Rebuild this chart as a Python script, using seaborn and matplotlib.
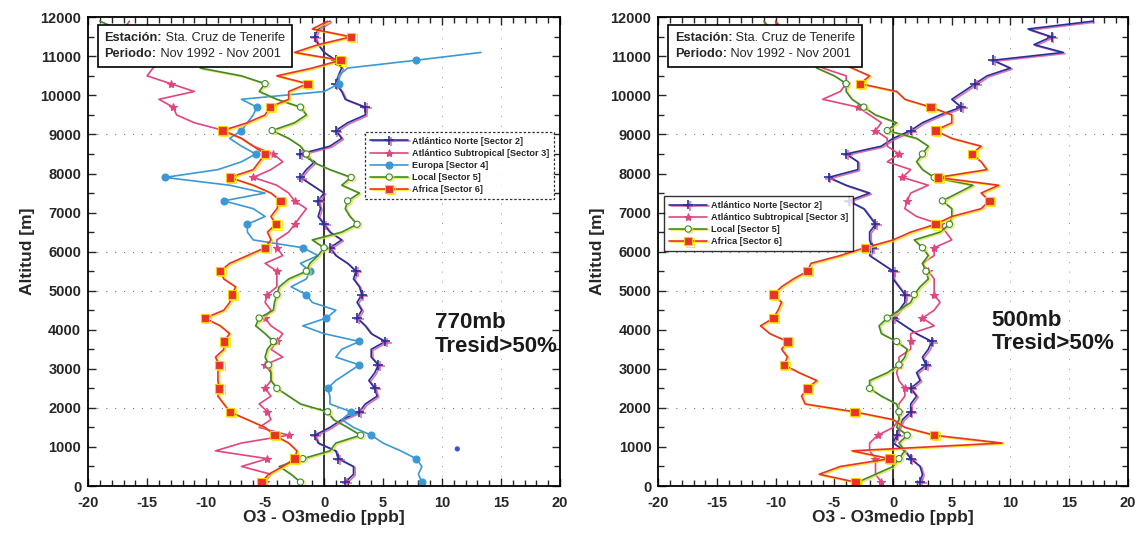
import numpy as np
import pandas as pd
import matplotlib
matplotlib.use('Agg')
import matplotlib.pyplot as plt
import matplotlib.patheffects as pe
from matplotlib.ticker import MultipleLocator
from matplotlib.offsetbox import TextArea, HPacker, VPacker, AnchoredOffsetbox
import seaborn as sns

nan = np.nan

# altitud de cada nivel (m)
altitud = [100, 300, 500, 700, 900, 1100, 1300, 1500, 1700, 1900,
           2100, 2300, 2500, 2700, 2900, 3100, 3300, 3500, 3700, 3900,
           4100, 4300, 4500, 4700, 4900, 5100, 5300, 5500, 5700, 5900,
           6100, 6300, 6500, 6700, 6900, 7100, 7300, 7500, 7700, 7900,
           8100, 8300, 8500, 8700, 8900, 9100, 9300, 9500, 9700, 9900,
           10100, 10300, 10500, 10700, 10900, 11100, 11300, 11500, 11700, 11900]

# ---- 770 mb ----
norte_770 = [1.8, 2.5, 2.5, 1.2, 1.0, -0.5, -0.8, 0.5, 1.5, 3.0,
             3.5, 4.5, 4.3, 3.8, 4.3, 4.6, 4.0, 4.0, 5.2, 4.0,
             3.5, 2.8, 3.2, 2.8, 3.2, 3.0, 2.5, 2.7, 2.0, 1.0,
             0.5, 1.5, 0.5, 0.0, -0.5, -0.3, -0.5, 0.0, -1.0, -2.0,
             -1.5, -0.8, -2.0, 0.5, 1.5, 1.0, 2.0, 3.5, 3.5, 1.8,
             1.5, 1.0, 1.2, 1.5, 1.0, 0.0, -0.5, -0.8, -0.5, 0.5]
subtrop_770 = [-5.0, -4.5, -7.0, -4.8, -9.2, -7.0, -3.0, -5.5, -4.5, -4.8,
               -5.5, -4.5, -5.0, -4.5, -4.5, -5.0, -3.5, -4.5, -4.0, -3.5,
               -4.5, -5.0, -4.5, -5.0, -4.8, -4.0, -4.0, -4.0, -5.0, -3.5,
               -4.0, -4.0, -3.0, -2.5, -2.0, -1.5, -2.5, -3.0, -4.0, -6.0,
               -4.5, -3.5, -4.3, -6.0, -7.0, -8.5, -11.0, -12.5, -12.8, -14.0,
               -11.0, -13.0, -15.0, -14.5, -14.0, -15.0, -15.5, -16.0, -17.0, -16.5]
europa_770 = [8.3, 8.0, 8.3, 7.8, 6.5, 5.0, 4.0, 2.5, 1.5, 2.3,
              0.5, 0.5, 0.3, 1.0, 2.0, 3.0, 1.0, 1.5, 3.0, 0.0,
              -1.8, 0.2, 1.0, -1.0, -1.5, -2.8, -1.5, -1.2, -2.0, -0.5,
              -1.8, -6.0, -6.5, -6.5, -5.0, -6.0, -8.5, -5.0, -8.0, -13.5,
              -9.0, -7.0, -5.8, -7.0, -8.0, -7.0, -6.5, -6.0, -5.7, -7.0,
              0.0, 1.3, 1.2, 2.0, 7.8, 13.3, nan, nan, nan, nan]
local_770 = [-2.0, -2.8, -3.8, -1.8, 0.5, 1.0, 3.1, 2.0, 0.8, 0.3,
             -2.0, -3.0, -4.0, -4.5, -4.5, -4.7, -5.0, -4.8, -4.3, -5.0,
             -5.8, -5.5, -4.3, -4.2, -4.0, -3.8, -3.0, -1.5, -1.2, -0.5,
             0.0, -1.0, 1.5, 2.8, 2.2, 1.8, 2.0, 3.0, 1.5, 2.3,
             0.5, -1.0, -1.5, -2.0, -3.0, -4.4, -2.5, -1.5, -2.0, -4.0,
             -5.5, -5.0, -7.0, -10.5, -9.5, -11.0, -13.0, -15.0, -17.5, -19.0]
africa_770 = [-5.3, -4.7, -3.5, -2.5, -2.3, -3.0, -4.2, -5.0, -6.5, -8.0,
              -8.5, -9.0, -8.9, -9.0, -9.0, -8.9, -9.2, -8.5, -8.5, -8.0,
              -8.8, -10.1, -8.5, -8.0, -7.8, -7.5, -8.5, -8.8, -8.0, -6.5,
              -5.0, -4.5, -4.8, -4.1, -4.5, -4.0, -3.7, -4.5, -6.0, -8.0,
              -6.0, -5.5, -5.0, -6.0, -7.0, -8.6, -6.5, -5.0, -4.6, -3.0,
              -3.0, -1.4, -4.0, -1.0, 1.4, -2.5, -0.5, 2.3, -1.0, 0.3]
europa_suelto_x = [11.3]
europa_suelto_alt = [950]

# ---- 500 mb ----
norte_500 = [2.3, 2.5, 2.3, 1.5, 1.0, 0.0, 0.3, 0.5, 0.8, 1.5,
             1.5, 2.0, 1.5, 2.3, 2.0, 2.8, 2.5, 3.0, 3.3, 2.0,
             1.0, 0.0, 0.5, 1.0, 1.0, 0.5, 0.0, 0.0, -1.0, -2.0,
             -1.8, -2.0, -2.0, -1.5, -2.0, -2.5, -3.8, -2.0, -4.0, -5.5,
             -3.0, -3.0, -4.0, -1.0, 0.0, 1.5, 2.5, 4.0, 5.8, 5.0,
             6.0, 7.0, 8.0, 10.0, 8.5, 14.5, 12.0, 13.5, 11.5, 17.0]
subtrop_500 = [-1.0, -1.5, -1.5, -1.5, -2.0, -2.0, -1.3, 0.0, 0.5, 0.5,
               0.5, 1.0, 1.0, 0.5, 0.3, 0.5, 0.5, 1.5, 1.5, 1.5,
               3.5, 2.5, 3.5, 4.0, 3.5, 3.5, 3.5, 3.0, 2.5, 3.5,
               3.5, 5.0, 4.5, 4.0, 2.0, 1.0, 1.2, 1.5, 3.0, 0.8,
               1.5, -0.5, 0.5, -0.5, -0.5, -1.5, -1.0, -2.0, -3.0, -6.0,
               -4.5, -4.0, -4.0, -6.0, -7.0, -8.0, -9.0, -9.5, -10.0, -10.0]
local_500 = [-3.0, -1.5, 0.0, 0.5, 1.0, 0.5, 1.2, 0.3, 0.5, 0.5,
             0.3, -1.0, -2.0, -2.0, -0.5, 0.5, 1.0, 1.2, 0.3, -1.0,
             -1.2, -0.5, 0.5, 1.5, 1.8, 2.3, 3.0, 2.8, 2.5, 3.0,
             2.5, 1.8, 4.0, 4.8, 5.0, 5.0, 4.2, 5.5, 6.8, 3.5,
             2.5, 2.0, 2.5, 3.0, 2.0, -0.5, 0.3, -1.5, -2.5, -3.5,
             -4.0, -4.0, -5.0, -6.5, -7.0, -8.0, -9.0, -10.0, -10.5, -11.0]
africa_500 = [-3.2, -6.3, -4.5, -0.3, -3.5, 9.3, 3.5, 1.0, 0.0, -3.3,
              -7.5, -7.8, -7.3, -6.5, -8.0, -9.3, -9.0, -9.5, -9.0, -10.5,
              -11.3, -10.2, -9.8, -9.5, -10.2, -9.5, -8.5, -7.3, -7.0, -4.5,
              -2.4, 0.0, 1.5, 3.6, 5.0, 7.5, 8.2, 7.5, 9.0, 3.8,
              8.0, 7.5, 6.7, 7.5, 5.0, 3.6, 5.0, 5.0, 3.2, 1.0,
              0.3, -2.8, -2.0, -3.5, -5.0, -7.0, -8.0, -9.0, -9.5, -10.0]

etiquetas = {
    'norte': 'Atlántico Norte [Sector 2]',
    'subtrop': 'Atlántico Subtropical [Sector 3]',
    'europa': 'Europa [Sector 4]',
    'local': 'Local [Sector 5]',
    'africa': 'Africa [Sector 6]',
}
estilos = {
    'norte':   dict(color='#26309a', marker='+', ms=7, mew=1.2),
    'subtrop': dict(color='#e2457f', marker='*', ms=6, mew=0.8),
    'europa':  dict(color='#3b98d6', marker='o', ms=5, mew=0.8),
    'local':   dict(color='#3f8a2c', marker='o', ms=4.5, mew=0.8, mfc='white'),
    'africa':  dict(color='#e8322b', marker='s', ms=6, mew=0.8, mec='#f5d000'),
}
sombras = {
    'norte': '#d84f9a',
    'local': '#e6e03a',
    'africa': '#ffe000',
}

sns.set_style('ticks')
plt.rcParams['font.family'] = ['Liberation Sans', 'DejaVu Sans']
plt.rcParams['axes.unicode_minus'] = False

fig = plt.figure(figsize=(11.45, 5.4), dpi=100)
ax1 = fig.add_axes([0.077, 0.10, 0.412, 0.868])
ax2 = fig.add_axes([0.575, 0.10, 0.410, 0.868])


def perfil(ax, clave, valores):
    df = pd.DataFrame({'x': valores, 'alt': altitud})
    st = estilos[clave]
    sns.lineplot(data=df, x='x', y='alt', sort=False, estimator=None, ax=ax,
                 color=st['color'], lw=1.2, marker=st['marker'], markersize=st['ms'],
                 markeredgewidth=st['mew'], markeredgecolor=st.get('mec', st['color']),
                 markerfacecolor=st.get('mfc', st['color']), markevery=3,
                 label=etiquetas[clave])
    linea = ax.lines[-1]
    if clave in sombras:
        linea.set_path_effects([pe.SimpleLineShadow(offset=(1.2, -0.8), shadow_color=sombras[clave], alpha=0.8),
                                pe.Normal()])
    return linea


def caja_estacion(ax):
    fuente = 9.2
    filas = []
    for negrita, normal in [('Estación:', ' Sta. Cruz de Tenerife'), ('Periodo:', ' Nov 1992 - Nov 2001')]:
        filas.append(HPacker(children=[
            TextArea(negrita, textprops=dict(fontsize=fuente, fontweight='bold')),
            TextArea(normal, textprops=dict(fontsize=fuente))], pad=0, sep=0))
    caja = AnchoredOffsetbox(loc='upper left', child=VPacker(children=filas, pad=0, sep=3),
                             pad=0.5, borderpad=0, frameon=True,
                             bbox_to_anchor=(0.02, 0.983), bbox_transform=ax.transAxes)
    caja.patch.set_edgecolor('black')
    caja.patch.set_linewidth(1.2)
    caja.patch.set_boxstyle('square', pad=0)
    caja.set_zorder(5)
    ax.add_artist(caja)


def marco(ax, texto, pos):
    ax.set_xlim(-20, 20)
    ax.set_ylim(0, 12000)
    ax.xaxis.set_major_locator(MultipleLocator(5))
    ax.xaxis.set_minor_locator(MultipleLocator(1))
    ax.yaxis.set_major_locator(MultipleLocator(1000))
    ax.yaxis.set_minor_locator(MultipleLocator(500))
    ax.tick_params(which='both', direction='in', top=True, right=True, labelsize=10.5, width=1)
    ax.tick_params(which='major', length=6)
    ax.tick_params(which='minor', length=4)
    ax.tick_params(axis='x', pad=7)
    ax.tick_params(axis='y', pad=5)
    for lab in ax.get_xticklabels() + ax.get_yticklabels():
        lab.set_fontweight('bold')
    for s in ax.spines.values():
        s.set_linewidth(1.3)
        s.set_color('black')
    ax.axvline(0, color='black', lw=1.1, zorder=1)
    for yy in [2000, 5000, 6000, 9000]:
        ax.axhline(yy, color='#777777', lw=0.8, ls=(0, (1, 7)), zorder=0)
    for xx in [10, 15]:
        ax.axvline(xx, color='#999999', lw=0.7, ls=(0, (1, 9)), zorder=0)
    ax.set_xlabel('O3 - O3medio [ppb]', fontsize=12.5, fontweight='bold', labelpad=0)
    ax.set_ylabel('Altitud [m]', fontsize=12.5, fontweight='bold', labelpad=4)
    caja_estacion(ax)
    ax.text(pos[0], pos[1], texto, fontsize=16, fontweight='bold', va='center', ha='left',
            linespacing=1.15, color='#1a1a1a')


leyenda = dict(loc='upper left', prop={'weight': 'bold', 'size': 6.6}, handlelength=4.2,
               frameon=True, fancybox=False, borderpad=0.5, labelspacing=0.35, handletextpad=0.4)

# panel 770 mb
h = [perfil(ax1, 'norte', norte_770), perfil(ax1, 'subtrop', subtrop_770),
     perfil(ax1, 'europa', europa_770), perfil(ax1, 'local', local_770),
     perfil(ax1, 'africa', africa_770)]
sns.scatterplot(x=europa_suelto_x, y=europa_suelto_alt, ax=ax1, color='#3b4fd6', s=14,
                edgecolor='none', legend=False)
marco(ax1, '770mb\nTresid>50%', (9.4, 3880))
leg1 = ax1.legend(handles=h, bbox_to_anchor=(0.578, 0.765), **leyenda)
leg1.get_frame().set_edgecolor('black')
leg1.get_frame().set_linestyle((0, (2, 1.5)))
leg1.get_frame().set_linewidth(0.9)

# panel 500 mb
h2 = [perfil(ax2, 'norte', norte_500), perfil(ax2, 'subtrop', subtrop_500),
      perfil(ax2, 'local', local_500), perfil(ax2, 'africa', africa_500)]
marco(ax2, '500mb\nTresid>50%', (8.4, 3950))
leg2 = ax2.legend(handles=h2, bbox_to_anchor=(0.003, 0.628), **leyenda)
leg2.get_frame().set_edgecolor('black')
leg2.get_frame().set_linewidth(1.0)

fig.savefig('out.png', dpi=100)
